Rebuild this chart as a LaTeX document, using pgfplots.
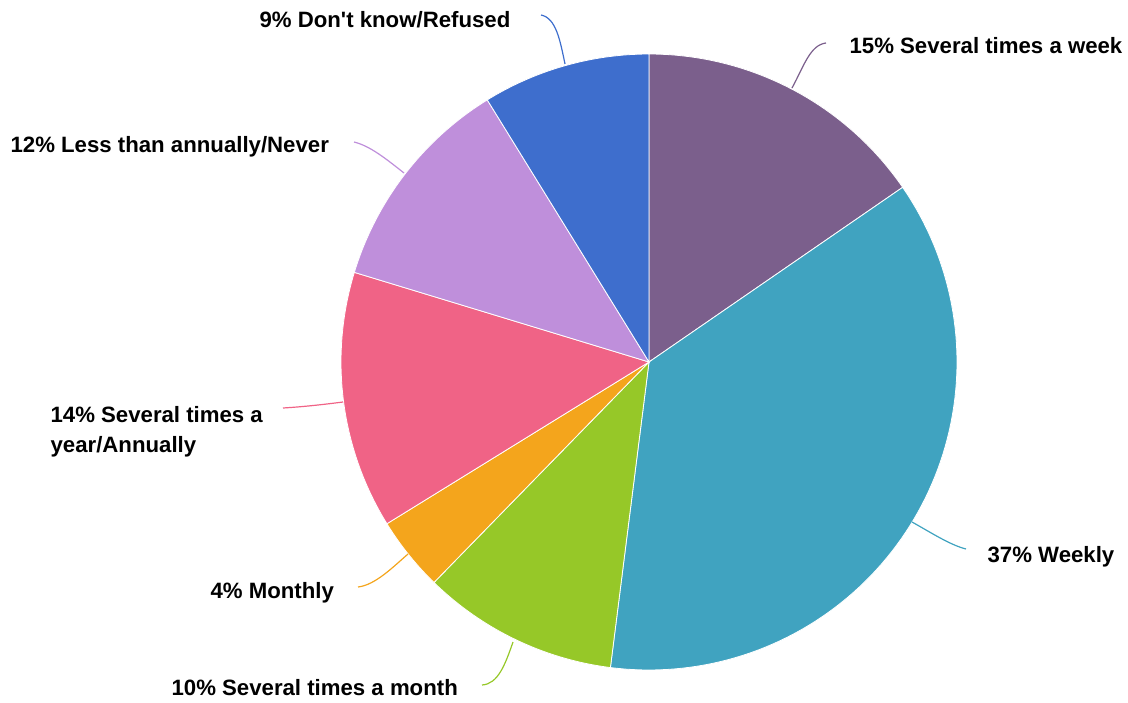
\documentclass[border=0pt]{standalone}
\usepackage{fontspec}
\setmainfont{Liberation Sans}
\usepackage{pgfplots}
\usepgfplotslibrary{polar}
\pgfplotsset{compat=1.18}

\definecolor{cpurple}{HTML}{7B5F8C}
\definecolor{cteal}{HTML}{40A3C0}
\definecolor{cgreen}{HTML}{96C828}
\definecolor{corange}{HTML}{F4A51C}
\definecolor{cpink}{HTML}{F06386}
\definecolor{clav}{HTML}{BF8FDB}
\definecolor{cblue}{HTML}{3E6ECD}

% shares in percent, clockwise from the top
\def\shA{15.4} % several times a week
\def\shB{36.6} % weekly
\def\shC{10.3} % several times a month
\def\shD{3.9}  % monthly
\def\shE{13.5} % several times a year/annually
\def\shF{11.5} % less than annually/never
\def\shG{8.8}  % don't know/refused
\pgfmathsetmacro\aA{90}
\pgfmathsetmacro\aB{\aA-3.6*\shA}
\pgfmathsetmacro\aC{\aB-3.6*\shB}
\pgfmathsetmacro\aD{\aC-3.6*\shC}
\pgfmathsetmacro\aE{\aD-3.6*\shD}
\pgfmathsetmacro\aF{\aE-3.6*\shE}
\pgfmathsetmacro\aG{\aF-3.6*\shF}
\pgfmathsetmacro\aH{\aG-3.6*\shG}

\begin{document}
\begin{tikzpicture}
\useasboundingbox (0,0) rectangle (564pt,351pt);
\begin{polaraxis}[
  at={(324.5pt,170pt)}, anchor=center,
  width=308pt, height=308pt, scale only axis,
  hide axis, ymin=0, ymax=1, clip=false,
]
\addplot[fill=cpurple, draw=white, line width=0.4pt, domain=\aB:\aA, samples=60] {1} -- (axis cs:0,0) -- cycle;
\addplot[fill=cteal, draw=white, line width=0.4pt, domain=\aC:\aB, samples=90] {1} -- (axis cs:0,0) -- cycle;
\addplot[fill=cgreen, draw=white, line width=0.4pt, domain=\aD:\aC, samples=40] {1} -- (axis cs:0,0) -- cycle;
\addplot[fill=corange, draw=white, line width=0.4pt, domain=\aE:\aD, samples=20] {1} -- (axis cs:0,0) -- cycle;
\addplot[fill=cpink, draw=white, line width=0.4pt, domain=\aF:\aE, samples=50] {1} -- (axis cs:0,0) -- cycle;
\addplot[fill=clav, draw=white, line width=0.4pt, domain=\aG:\aF, samples=40] {1} -- (axis cs:0,0) -- cycle;
\addplot[fill=cblue, draw=white, line width=0.4pt, domain=\aH:\aG, samples=40] {1} -- (axis cs:0,0) -- cycle;
\end{polaraxis}

\begin{scope}[shift={(0,351pt)}, x=0.5pt, y=-0.5pt, line width=0.6pt,
  every node/.style={anchor=base west, inner sep=0pt,
    font=\bfseries\fontsize{11.1}{15}\selectfont}]
\draw[cpurple] (792,88) .. controls (804,66) and (810,45) .. (826,43);
\draw[cteal] (912,522) .. controls (930,532) and (950,545) .. (966,549);
\draw[cgreen] (513,642) .. controls (505,665) and (498,684) .. (482,685);
\draw[corange] (408,554) .. controls (392,568) and (375,585) .. (358,587);
\draw[cpink] (343,402) .. controls (320,405) and (300,407) .. (283,408);
\draw[clav] (404,173) .. controls (385,158) and (370,146) .. (354,142);
\draw[cblue] (565,64) .. controls (560,40) and (556,18) .. (541,15);
\node at (849,54) {15\% Several times a week};
\node at (987,562) {37\% Weekly};
\node at (171,695) {10\% Several times a month};
\node at (210,598) {4\% Monthly};
\node at (50,422) {14\% Several times a};
\node at (50,452) {year/Annually};
\node at (10,153) {12\% Less than annually/Never};
\node at (259,28) {9\% Don\textquotesingle t know/Refused};
\end{scope}
\end{tikzpicture}
\end{document}
